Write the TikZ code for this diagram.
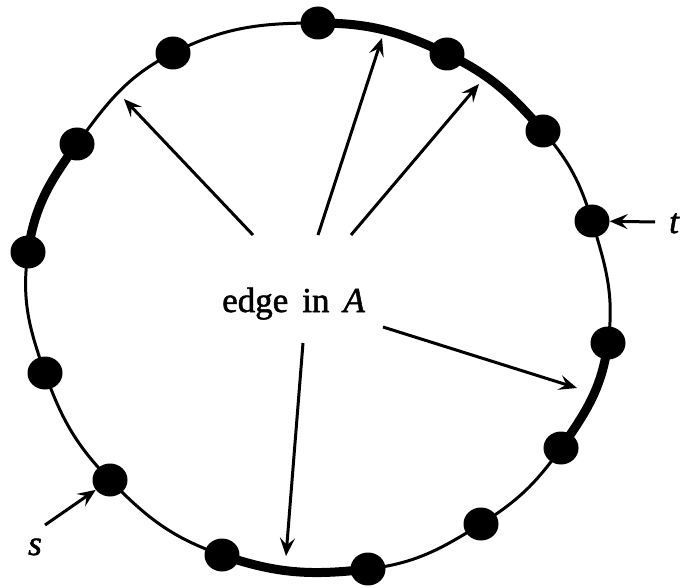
\documentclass[tikz,border=0pt]{standalone}
\usepackage{fontspec}
\setmainfont{Liberation Serif}
\usetikzlibrary{arrows.meta,shapes.geometric}
\begin{document}
\begin{tikzpicture}[x=1pt,y=-1pt,
  dot/.style={ellipse,fill=black,inner sep=0pt,minimum width=35pt,minimum height=33pt},
  ring/.style={line width=3pt},
  matched/.style={line width=9pt},
  pointer/.style={line width=3pt,-{Stealth[length=18pt,width=15pt,inset=7pt]}},
  lbl/.style={font=\fontsize{35}{38}\selectfont\addfontfeature{FakeBold=1.5},inner sep=0pt}]
\useasboundingbox (0,0) rectangle (680,588);
\coordinate (p1) at (318,23);
\coordinate (p2) at (447,54);
\coordinate (p3) at (543,131);
\coordinate (p4) at (592,221);
\coordinate (p5) at (608,343);
\coordinate (p6) at (561,448);
\coordinate (p7) at (481,524);
\coordinate (p8) at (368,569);
\coordinate (p9) at (222,555);
\coordinate (p10) at (110,480);
\coordinate (p11) at (45,373);
\coordinate (p12) at (28,252);
\coordinate (p13) at (77,144);
\coordinate (p14) at (173,53);
% ring
\draw[matched] (p1) to[out=0,in=154.4] (p2);
\draw[matched] (p2) to[out=-25.6,in=131] (p3);
\draw[ring] (p3) to[out=-49,in=107] (p4);
\draw[ring] (p4) to[out=-73,in=82.2] (p5);
\draw[matched] (p5) to[out=-97.8,in=54.9] (p6);
\draw[ring] (p6) to[out=-125.1,in=32.1] (p7);
\draw[ring] (p7) to[out=-147.9,in=6.8] (p8);
\draw[matched] (p8) to[out=-173.2,in=-19] (p9);
\draw[ring] (p9) to[out=161,in=-45.8] (p10);
\draw[ring] (p10) to[out=134.2,in=-70.2] (p11);
\draw[ring] (p11) to[out=109.8,in=-98] (p12);
\draw[matched] (p12) to[out=82,in=-126.1] (p13);
\draw[ring] (p13) to[out=53.9,in=-153.3] (p14);
\draw[ring] (p14) to[out=26.7,in=180] (p1);
% dots
\foreach \i in {1,...,14} \node[dot] (d\i) at (p\i) {};
% labels
\node[lbl,anchor=base west] (lab) at (222,312) {edge\hspace{14pt}in\hspace{14pt}\textit{A}};
\node[lbl,anchor=base] (s) at (35,555) {\textit{s}};
\node[lbl,anchor=base west] (t) at (669,233) {\textit{t}};
% arrow ends
\coordinate (a1) at (253,235); \coordinate (h1) at (124,99);
\coordinate (a2) at (318,235); \coordinate (h2) at (382,38);
\coordinate (a3) at (351,235); \coordinate (h3) at (479,84);
\coordinate (a4) at (383,327); \coordinate (h4) at (577,388);
\coordinate (a5) at (303,343); \coordinate (h5) at (286,556);
\coordinate (ta) at (655,222);
\coordinate (sa) at (45,525);
\draw[pointer] (a1) -- (h1);
\draw[pointer] (a2) -- (h2);
\draw[pointer] (a3) -- (h3);
\draw[pointer] (a4) -- (h4);
\draw[pointer] (a5) -- (h5);
\draw[pointer] (ta) -- (d4);
\draw[pointer] (sa) -- (d10);
\end{tikzpicture}
\end{document}
